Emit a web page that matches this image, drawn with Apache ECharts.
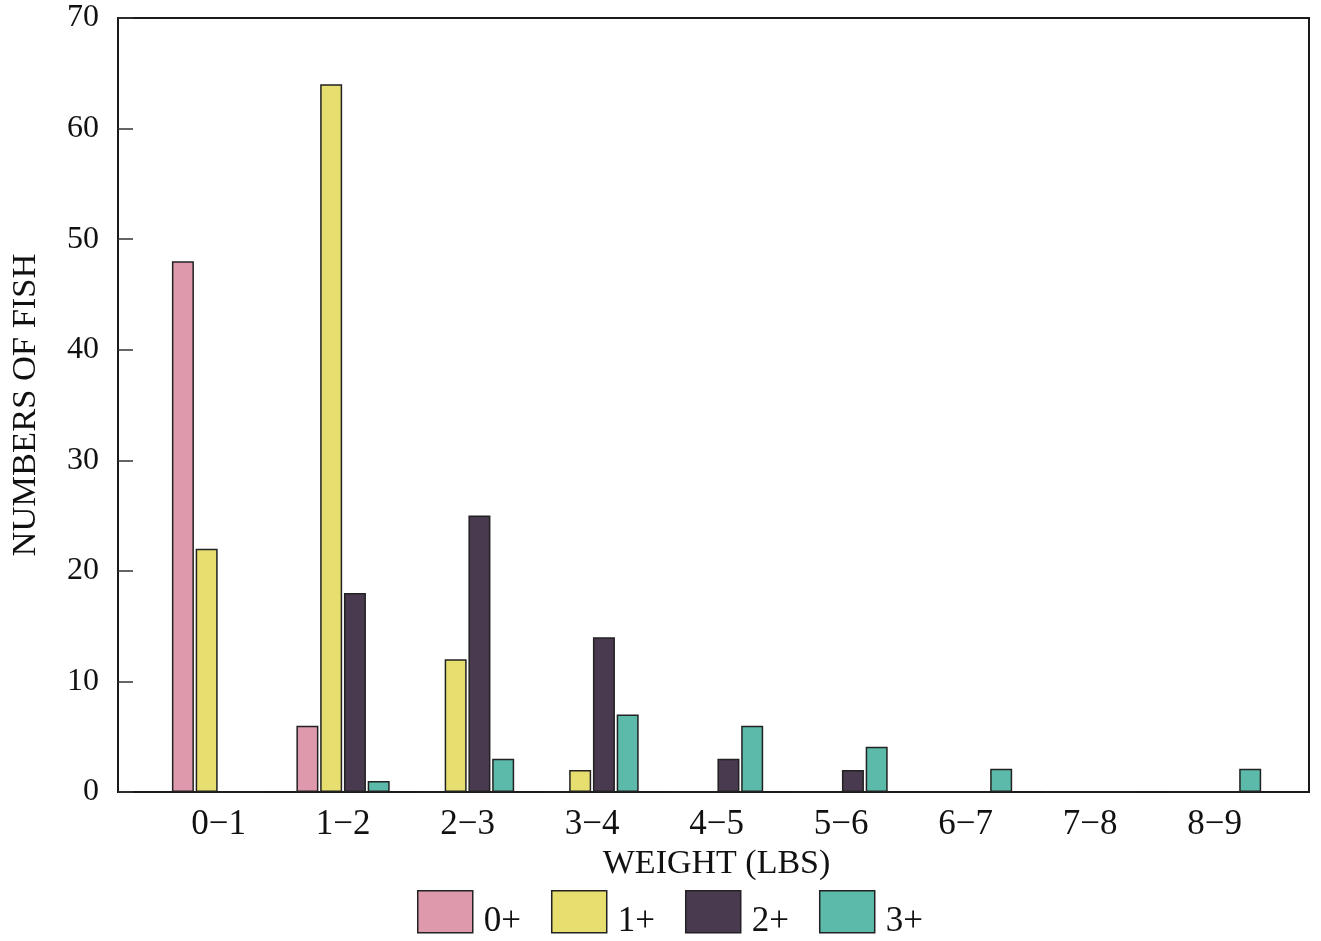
<!DOCTYPE html>
<html>
<head>
<meta charset="utf-8">
<script src="https://cdn.jsdelivr.net/npm/echarts@6/dist/echarts.min.js"></script>
<style>
html,body{margin:0;padding:0;background:#fff;}
#chart{width:1321px;height:941px;}
</style>
</head>
<body>
<div id="chart"></div>
<script>
// Data
const categories = ['0\u22121','1\u22122','2\u22123','3\u22124','4\u22125','5\u22126','6\u22127','7\u22128','8\u22129'];
const seriesNames = ['0+','1+','2+','3+'];
const age0 = [48, 6, 0, 0, 0, 0, 0, 0, 0];
const age1 = [22, 64, 12, 2, 0, 0, 0, 0, 0];
const age2 = [0, 18, 25, 14, 3, 2, 0, 0, 0];
const age3 = [0, 1, 3, 7, 6, 4.1, 2.1, 0, 2.1];
const yTicks = [0, 10, 20, 30, 40, 50, 60, 70];

const colors = ['#de9aac', '#e6de6e', '#4a3a4f', '#5bbaa9'];
const font = '"Liberation Serif", "Times New Roman", serif';

const chart = echarts.init(document.getElementById('chart'), null, {renderer: 'canvas'});
const values = [age0, age1, age2, age3];

const option = {
  backgroundColor: '#ffffff',
  animation: false,
  textStyle: {fontFamily: font, color: '#111'},
  grid: [
    {left: 114, right: 12, top: 18, bottom: 149, show: true, borderColor: '#1a1a1a', borderWidth: 2, backgroundColor: 'transparent'},
    {left: 156.3, right: 44.2, top: 18, bottom: 149}
  ],
  xAxis: [
    {gridIndex: 0, type: 'value', min: 0, max: 1, show: false},
    {gridIndex: 1, type: 'category', data: categories,
     axisLine: {show: false}, axisTick: {show: false},
     axisLabel: {fontFamily: font, fontSize: 35, color: '#111', margin: 15},
     name: 'WEIGHT (LBS)', nameLocation: 'middle', nameGap: 50,
     nameTextStyle: {fontFamily: font, fontSize: 34, color: '#111'}}
  ],
  yAxis: [
    {gridIndex: 0, type: 'value', min: 0, max: 70, interval: 10,
     axisLine: {show: false},
     axisTick: {show: true, inside: true, length: 15, lineStyle: {color: '#333', width: 1.5}},
     splitLine: {show: false},
     axisLabel: {fontFamily: font, fontSize: 32, color: '#111', margin: 19,
       formatter: function (v) { return yTicks.indexOf(v) >= 0 ? String(v) : ''; }},
     name: 'NUMBERS OF FISH', nameLocation: 'middle', nameGap: 75, nameRotate: 90,
     nameTextStyle: {fontFamily: font, fontSize: 34.5, color: '#111'}},
    {gridIndex: 1, type: 'value', min: 0, max: 70, interval: 10, show: false}
  ],
  legend: {
    left: 417, top: 890, padding: 0,
    itemWidth: 55, itemHeight: 42, itemGap: 30,
    icon: 'rect',
    data: seriesNames,
    formatter: '{t|{name}}',
    textStyle: {fontFamily: font, fontSize: 35, color: '#111',
      rich: {t: {fontFamily: font, fontSize: 35, color: '#111', padding: [20, 0, 0, 6]}}},
    itemStyle: {borderColor: '#222', borderWidth: 1.5}
  },
  series: seriesNames.map(function (n, i) {
    return {
      name: n, type: 'bar', xAxisIndex: 1, yAxisIndex: 1,
      data: values[i], barWidth: 22, barGap: '8%',
      itemStyle: {color: colors[i], borderColor: '#222', borderWidth: 1.5}
    };
  })
};
chart.setOption(option);
</script>
</body>
</html>
